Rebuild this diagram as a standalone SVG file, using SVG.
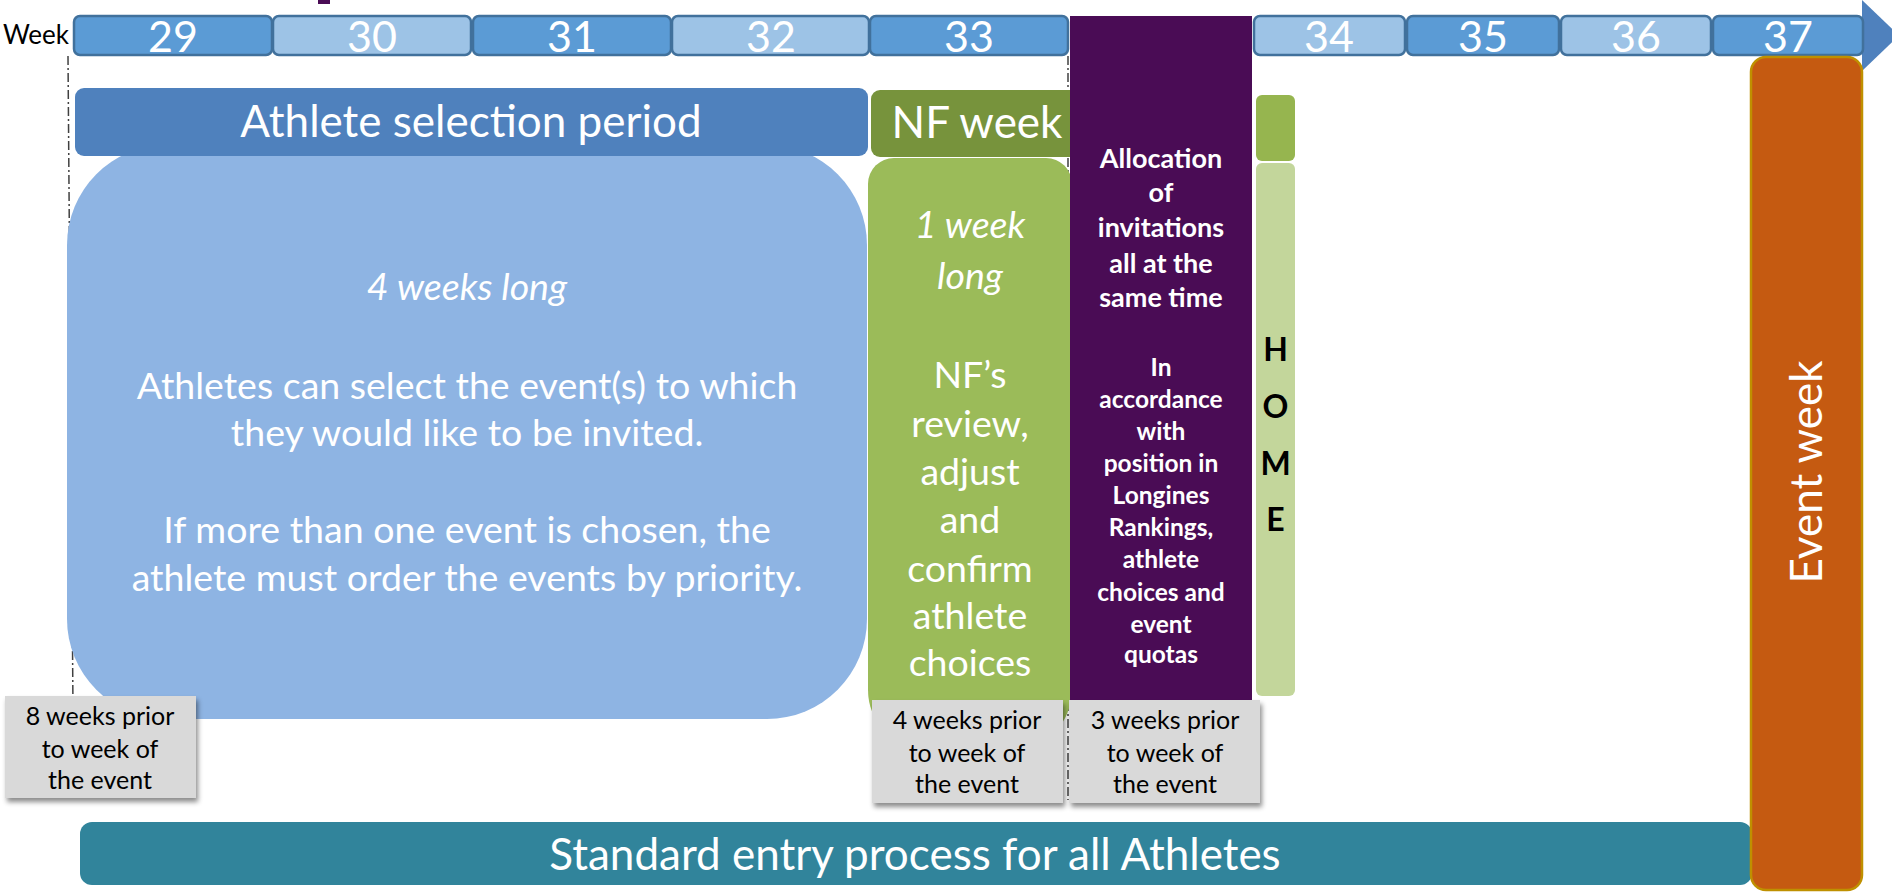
<svg xmlns="http://www.w3.org/2000/svg" width="1892" height="893" viewBox="0 0 1892 893">
<defs>
<style>
.wk{stroke:#41719C;stroke-width:2.5}
.wd{fill:#5B9BD5}
.wl{fill:#9DC3E6}
.wn{font-family:Lato,"Liberation Sans",sans-serif;font-size:43px;fill:#fff;text-anchor:middle}
.hd{font-family:Lato,"Liberation Sans",sans-serif;font-size:44px;fill:#fff;text-anchor:middle}
.bd{font-family:Lato,"Liberation Sans",sans-serif;font-size:37.5px;fill:#fff;text-anchor:middle}
.it{font-style:italic}
.pb{font-family:Lato,"Liberation Sans",sans-serif;font-weight:bold;fill:#fff;text-anchor:middle}
.lb{font-family:Lato,"Liberation Sans",sans-serif;font-size:25px;fill:#000;text-anchor:middle}
.gray{fill:#D9D9D9}
.dash{stroke:#404040;stroke-width:1.5;fill:none;stroke-dasharray:9 3 2 3}
</style>
<filter id="sh" x="-10%" y="-10%" width="130%" height="140%">
<feDropShadow dx="2" dy="4" stdDeviation="2.5" flood-color="#000" flood-opacity="0.45"/>
</filter>
</defs>
<rect width="1892" height="893" fill="#fff"/>
<rect x="318" y="0" width="12" height="4" fill="#4A0C55"/>

<g id="connectors">
<line class="dash" x1="68" y1="56" x2="73" y2="710"/>
<line class="dash" x1="1068" y1="56" x2="1068" y2="800"/>
</g>

<g id="timeline">
<text x="69" y="44" font-family="Lato, 'Liberation Sans', sans-serif" font-size="26" text-anchor="end" fill="#000">Week</text>
<polygon points="1862,0 1899,35.5 1862,71" fill="#4F81BD"/>
<rect class="wk wd" x="74" y="16" width="198" height="39" rx="6"/>
<rect class="wk wl" x="273" y="16" width="198" height="39" rx="6"/>
<rect class="wk wd" x="473" y="16" width="198" height="39" rx="6"/>
<rect class="wk wl" x="672" y="16" width="197" height="39" rx="6"/>
<rect class="wk wd" x="870" y="16" width="198" height="39" rx="6"/>
<rect class="wk wl" x="1254" y="16" width="151" height="39" rx="6"/>
<rect class="wk wd" x="1407" y="16" width="152" height="39" rx="6"/>
<rect class="wk wl" x="1561" y="16" width="150" height="39" rx="6"/>
<rect class="wk wd" x="1713" y="16" width="150" height="39" rx="6"/>
<text class="wn" x="173" y="52">29</text>
<text class="wn" x="372" y="52">30</text>
<text class="wn" x="572" y="52">31</text>
<text class="wn" x="771" y="52">32</text>
<text class="wn" x="969" y="52">33</text>
<text class="wn" x="1329" y="52">34</text>
<text class="wn" x="1483" y="52">35</text>
<text class="wn" x="1636" y="52">36</text>
<text class="wn" x="1788" y="52">37</text>
</g>

<g id="selection-box">
<rect x="67" y="145" width="800" height="574" rx="100" fill="#8EB4E3"/>
<text class="bd it" x="467" y="300">4 weeks long</text>
<text class="bd" x="467" y="399">Athletes can select the event(s) to which</text>
<text class="bd" x="467" y="446">they would like to be invited.</text>
<text class="bd" x="467" y="543">If more than one event is chosen, the</text>
<text class="bd" x="467" y="591">athlete must order the events by priority.</text>
</g>

<g id="selection-header">
<rect x="75" y="88" width="793" height="68" rx="9" fill="#4F81BD"/>
<text class="hd" x="471" y="137">Athlete selection period</text>
</g>

<g id="nf-header">
<rect x="871" y="90" width="212" height="67" rx="9" fill="#77933C"/>
<text class="hd" x="977" y="138">NF week</text>
</g>

<g id="nf-box">
<path d="M894,158 H1046 A26,26 0 0 1 1072,184 V690 A60,60 0 0 1 1012,750 H928 A60,60 0 0 1 868,690 V184 A26,26 0 0 1 894,158 Z" fill="#9BBB59"/>
<text class="bd it" x="970" y="238">1 week</text>
<text class="bd it" x="970" y="289">long</text>
<text class="bd" x="970" y="388">NF’s</text>
<text class="bd" x="970" y="437">review,</text>
<text class="bd" x="970" y="485">adjust</text>
<text class="bd" x="970" y="533">and</text>
<text class="bd" x="970" y="582">confirm</text>
<text class="bd" x="970" y="629">athlete</text>
<text class="bd" x="970" y="676">choices</text>
</g>

<g id="allocation">
<rect x="1070" y="16" width="182" height="688" fill="#4A0C55"/>
<g class="pb" font-size="27">
<text x="1161" y="168">Allocation</text>
<text x="1161" y="202">of</text>
<text x="1161" y="237">invitations</text>
<text x="1161" y="273">all at the</text>
<text x="1161" y="307">same time</text>
</g>
<g class="pb" font-size="24.5">
<text x="1161" y="376">In</text>
<text x="1161" y="408">accordance</text>
<text x="1161" y="440">with</text>
<text x="1161" y="472">position in</text>
<text x="1161" y="504">Longines</text>
<text x="1161" y="536">Rankings,</text>
<text x="1161" y="568">athlete</text>
<text x="1161" y="601">choices and</text>
<text x="1161" y="633">event</text>
<text x="1161" y="663">quotas</text>
</g>
</g>

<g id="home-header">
<rect x="1256" y="95" width="39" height="66" rx="6" fill="#96B54F"/>
</g>

<g id="home">
<rect x="1256" y="163" width="39" height="533" rx="6" fill="#C3D69B"/>
<g font-family="Lato, 'Liberation Sans', sans-serif" font-weight="bold" font-size="32" fill="#000" text-anchor="middle">
<text x="1275.5" y="361">H</text>
<text x="1275.5" y="418">O</text>
<text x="1275.5" y="475">M</text>
<text x="1275.5" y="531">E</text>
</g>
</g>

<g id="standard-entry">
<rect x="80" y="822" width="1672" height="63" rx="12" fill="#31849B"/>
<text class="hd" x="915" y="870">Standard entry process for all Athletes</text>
</g>

<g id="event-week">
<rect x="1751" y="57" width="111" height="833" rx="15" fill="#C55A11" stroke="#BF9000" stroke-width="2.5"/>
<text class="hd" font-size="45" transform="translate(1822,472) rotate(-90)" x="0" y="0">Event week</text>
</g>

<g id="label-8weeks">
<rect class="gray" x="5" y="696" width="191" height="102" filter="url(#sh)"/>
<text class="lb" x="100" y="725">8 weeks prior</text>
<text class="lb" x="100" y="758">to week of</text>
<text class="lb" x="100" y="789">the event</text>
</g>

<g id="label-4weeks">
<rect class="gray" x="872" y="700" width="191" height="103" filter="url(#sh)"/>
<text class="lb" x="967" y="729">4 weeks prior</text>
<text class="lb" x="967" y="762">to week of</text>
<text class="lb" x="967" y="793">the event</text>
</g>

<g id="label-3weeks">
<rect class="gray" x="1069" y="700" width="191" height="103" filter="url(#sh)"/>
<text class="lb" x="1165" y="729">3 weeks prior</text>
<text class="lb" x="1165" y="762">to week of</text>
<text class="lb" x="1165" y="793">the event</text>
</g>
</svg>
